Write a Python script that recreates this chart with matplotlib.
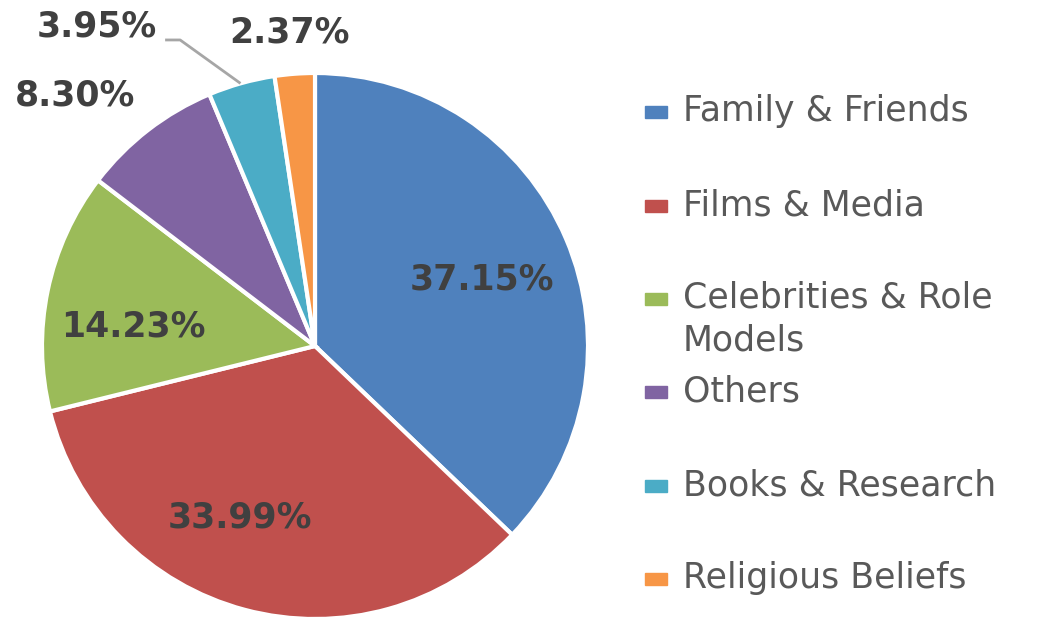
import matplotlib
matplotlib.use("Agg")
import matplotlib.pyplot as plt
from matplotlib.patches import Rectangle

categories = ["Family & Friends", "Films & Media", "Celebrities & Role\nModels",
              "Others", "Books & Research", "Religious Beliefs"]
shares = [37.15, 33.99, 14.23, 8.30, 3.95, 2.37]
colors = ["#4F81BD", "#C0504D", "#9BBB59", "#8064A2", "#4BACC6", "#F79646"]

# label centres in pie-radius units (Excel "best fit" placement)
label_pos = [(0.612, 0.245), (-0.275, -0.630), (-0.667, 0.073),
             (-0.879, 0.916), (-0.799, 1.172), (-0.092, 1.150)]

W, H = 1058, 620
cx, cy, R = 315, 346, 273

fig = plt.figure(figsize=(W / 100, H / 100), dpi=100)
ax = fig.add_axes([(cx - R) / W, (H - cy - R) / H, 2 * R / W, 2 * R / H])
wedges, _ = ax.pie(shares, colors=colors, startangle=90, counterclock=False,
                   radius=1.0, wedgeprops=dict(edgecolor="white", linewidth=3))
ax.set_xlim(-1, 1)
ax.set_ylim(-1, 1)
ax.set_aspect("equal")
ax.axis("off")

font = "DejaVu Sans"
for v, (x, y) in zip(shares, label_pos):
    ax.text(x, y, f"{v:.2f}%", ha="center", va="center", fontsize=25,
            fontweight="bold", color="#404040", family=font, clip_on=False)

# leader line for the small aqua slice
ax.plot([-0.549, -0.494, -0.273], [1.121, 1.121, 0.962], color="#A6A6A6",
        lw=2, clip_on=False, solid_capstyle="butt")

# legend, drawn by hand to match the Excel layout
rows = [112, 206, 299, 392, 486, 579]
for lab, c, yr in zip(categories, colors, rows):
    fig.patches.append(Rectangle((645 / W, 1 - (yr + 6) / H), 22 / W, 12 / H,
                                 transform=fig.transFigure, color=c))
    fig.text(683 / W, 1 - (yr - 18) / H, lab, ha="left", va="top", fontsize=25,
             color="#595959", family=font, linespacing=1.3)

fig.savefig("out.png", dpi=100)
